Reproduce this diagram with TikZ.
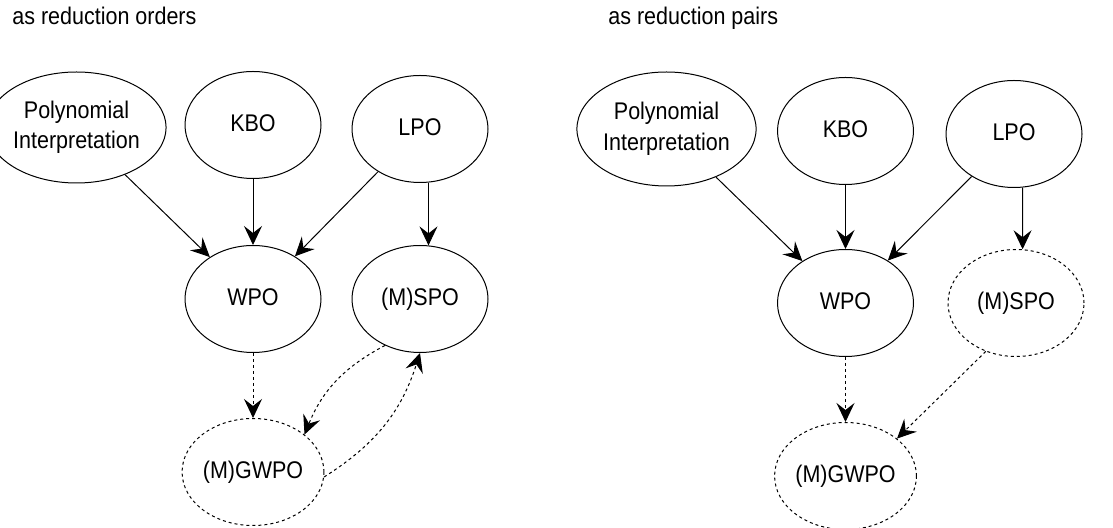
\documentclass[tikz,border=0pt]{standalone}
\usepackage{fontspec}
\setmainfont{Liberation Sans}
\usepackage{tikz}
\usetikzlibrary{shapes.geometric,arrows.meta}
\newcommand{\txt}[1]{\scalebox{1}[1.12]{\begin{tabular}{@{}c@{}}#1\end{tabular}}}

\begin{document}
\begin{tikzpicture}[x=0.5pt,y=-0.5pt,
    font=\fontsize{10.75}{13.5}\selectfont,
    ord/.style={ellipse, draw, line width=0.5pt, inner sep=0pt, minimum width=68pt, minimum height=53.5pt},
    weak/.style={ord, dash pattern=on 1.5pt off 1.5pt},
    arr/.style={line width=0.5pt, -{Stealth[length=9.5pt,width=9pt,inset=3.5pt]}},
    darr/.style={arr, dash pattern=on 1.5pt off 1.5pt}]
    \useasboundingbox (0,0) rectangle (1113,528);
    %LEFT: AS REDUCTION ORDERS
    \node[anchor=base west, inner sep=0pt] (tl) at (12,25) {\txt{as reduction orders}};
    \node[ord, minimum width=72.5pt, minimum height=55.5pt] (polyl) at (76.5,127.5) {\txt{Polynomial\\Interpretation}};
    \node[ord] (kbol) at (253,125) {\txt{KBO}};
    \node[ord] (lpol) at (420,129) {\txt{LPO}};
    \node[ord] (wpol) at (253,299) {\txt{WPO}};
    \node[ord] (spol) at (420,299) {\txt{(M)SPO}};
    \node[weak] (gwpol) at (253,472) {\txt{(M)GWPO}};
    \draw[arr] (polyl) -- (wpol);
    \draw[arr] (kbol) -- (wpol);
    \draw[arr] (lpol) -- (wpol);
    \draw[arr] (lpol.-81) -- (spol.81);
    \draw[darr] (wpol) -- (gwpol);
    \draw[darr] (spol.-127) to[bend right=20] (gwpol.36);
    \draw[darr] (gwpol.-4) to[bend right=20] (spol.-90);
    %RIGHT: AS REDUCTION PAIRS
    \node[anchor=base west, inner sep=0pt] (tr) at (608,25) {\txt{as reduction pairs}};
    \node[ord, minimum width=73.5pt, minimum height=57pt] (polyr) at (666.5,129) {\txt{Polynomial\\Interpretation}};
    \node[ord] (kbor) at (845.5,131) {\txt{KBO}};
    \node[ord] (lpor) at (1014,134) {\txt{LPO}};
    \node[ord] (wpor) at (845.5,303) {\txt{WPO}};
    \node[weak] (spor) at (1016,303) {\txt{(M)SPO}};
    \node[weak] (gwpor) at (845.5,476) {\txt{(M)GWPO}};
    \draw[arr] (polyr) -- (wpor);
    \draw[arr] (kbor) -- (wpor);
    \draw[arr] (lpor) -- (wpor);
    \draw[arr] (lpor.-81) -- (spor.83);
    \draw[darr] (wpor) -- (gwpor);
    \draw[darr] (spor.-122) -- (gwpor.36);
\end{tikzpicture}
\end{document}
